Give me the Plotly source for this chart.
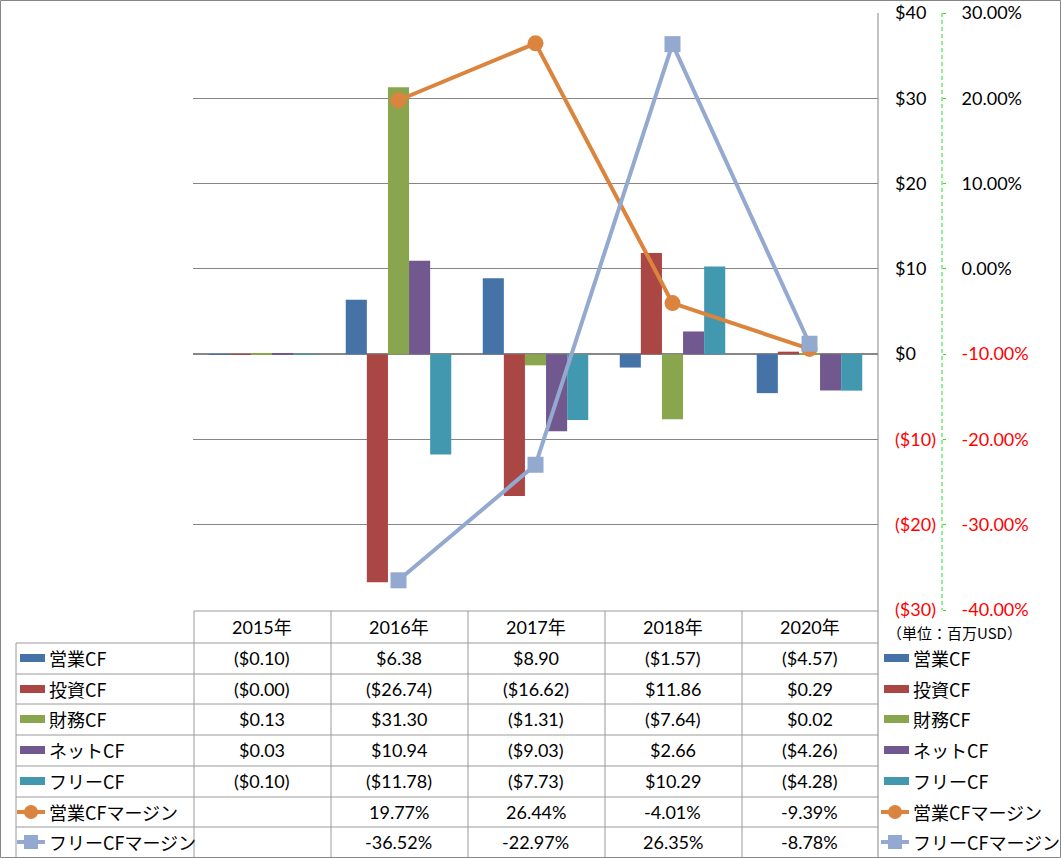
import plotly.graph_objects as go

years = ["2015年", "2016年", "2017年", "2018年", "2020年"]

bar_names = ["営業CF", "投資CF", "財務CF", "ネットCF", "フリーCF"]
op_cf = [-0.10, 6.38, 8.90, -1.57, -4.57]
inv_cf = [-0.001, -26.74, -16.62, 11.86, 0.29]
fin_cf = [0.13, 31.30, -1.31, -7.64, 0.02]
net_cf = [0.03, 10.94, -9.03, 2.66, -4.26]
free_cf = [-0.10, -11.78, -7.73, 10.29, -4.28]
bar_values = [op_cf, inv_cf, fin_cf, net_cf, free_cf]
bar_colors = ["#4572A7", "#AA4643", "#89A54E", "#71588F", "#4198AF"]

line_names = ["営業CFマージン", "フリーCFマージン"]
op_margin = [None, 19.77, 26.44, -4.01, -9.39]
free_margin = [None, -36.52, -22.97, 26.35, -8.78]
line_values = [op_margin, free_margin]
line_colors = ["#DB843D", "#93A9CF"]
line_symbols = ["circle", "square"]

usd_ticks = [-30, -20, -10, 0, 10, 20, 30, 40]
pct_ticks = [-40, -30, -20, -10, 0, 10, 20, 30]
unit_note = "（単位：百万USD）"

W, H = 1061, 858
def X(p):
    return p / W
def Y(p):
    return 1 - p / H

FONT = "Lato, 'Noto Sans CJK JP', sans-serif"
JFONT = "'Noto Sans CJK JP', sans-serif"
GRID = "#868686"
TBL = "#9a9a9a"

def usd(v):
    if v < 0:
        return "(${:.2f})".format(-v)
    return "${:.2f}".format(v)

def usd_tick(v):
    if v < 0:
        return "<span style='color:red'>(${})</span>".format(-v)
    return "${}".format(v)

def pct_tick(v):
    s = "{:.2f}%".format(v)
    if v < 0:
        return "<span style='color:red'>" + s + "</span>"
    return s

fig = go.Figure()
for name, vals, col in zip(bar_names, bar_values, bar_colors):
    fig.add_trace(go.Bar(x=years, y=vals, name=name, marker_color=col,
                         marker_line_width=0, yaxis="y"))
for name, vals, col, sym in zip(line_names, line_values, line_colors, line_symbols):
    fig.add_trace(go.Scatter(x=years, y=vals, name=name, mode="lines+markers",
                             line=dict(color=col, width=4),
                             marker=dict(symbol=sym, size=16, color=col),
                             yaxis="y2"))

shapes = []
annots = []

def hline(y, x0, x1, color=TBL, w=1):
    shapes.append(dict(type="line", xref="paper", yref="paper", x0=X(x0), x1=X(x1),
                       y0=Y(y), y1=Y(y), line=dict(color=color, width=w)))

def vline(x, y0, y1, color=TBL, w=1, dash="solid"):
    shapes.append(dict(type="line", xref="paper", yref="paper", x0=X(x), x1=X(x),
                       y0=Y(y0), y1=Y(y1), line=dict(color=color, width=w, dash=dash)))

# outer border
shapes.append(dict(type="rect", xref="paper", yref="paper", x0=X(0.5), x1=X(1060.5),
                   y0=Y(857.5), y1=Y(0.5), line=dict(color=GRID, width=1)))

# table grid
row_lines = [643, 674, 704, 735, 766, 797, 827]
hline(611, 194, 878)
for y in row_lines:
    hline(y, 16, 878)
vline(16, 643, 857)
for x in [194, 331, 468, 605, 742]:
    vline(x, 611, 857)
vline(878, 13, 857, color=GRID)
# secondary axis dashed line
vline(942, 13, 610, color="#22e022", dash="4px,3px")

row_centers = [658, 689, 719, 750, 781, 812, 842]
for yr in years:
    annots.append(dict(x=yr, xref="x", y=Y(627), yref="paper", yanchor="middle", text=yr,
                       showarrow=False, font=dict(size=18, family=FONT, color="#000")))

all_names = bar_names + line_names
for r, name in enumerate(all_names):
    yc = row_centers[r]
    if r < 5:
        vals = bar_values[r]
        cells = [usd(v) for v in vals]
        col = bar_colors[r]
        for x0 in (20, 884):
            shapes.append(dict(type="rect", xref="paper", yref="paper", x0=X(x0), x1=X(x0 + 25),
                               y0=Y(yc + 4), y1=Y(yc - 4), fillcolor=col, line_width=0))
    else:
        vals = line_values[r - 5]
        cells = ["" if v is None else "{:.2f}%".format(v) for v in vals]
        col = line_colors[r - 5]
        for x0 in (17, 881):
            shapes.append(dict(type="line", xref="paper", yref="paper", x0=X(x0), x1=X(x0 + 28),
                               y0=Y(yc), y1=Y(yc), line=dict(color=col, width=4)))
            cx = x0 + 14
            shapes.append(dict(type="circle" if r == 5 else "rect", xref="paper", yref="paper",
                               x0=X(cx - 7), x1=X(cx + 7), y0=Y(yc + 7), y1=Y(yc - 7),
                               fillcolor=col, line_width=0))
    for lx in (47, 911):
        annots.append(dict(x=X(lx), xref="paper", y=Y(yc), yref="paper", yanchor="middle",
                           text=name, showarrow=False, xanchor="left",
                           font=dict(size=18, family=JFONT, color="#000")))
    for yr, txt in zip(years, cells):
        annots.append(dict(x=yr, xref="x", y=Y(yc), yref="paper", yanchor="middle", text=txt,
                           showarrow=False, font=dict(size=18, family=FONT, color="#000")))

annots.append(dict(x=X(885), xref="paper", y=Y(632), yref="paper", yanchor="middle",
                   text=unit_note, showarrow=False, xanchor="left",
                   font=dict(size=15, family=JFONT, color="#000")))

fig.update_layout(
    width=W, height=H, autosize=False,
    margin=dict(l=0, r=0, t=0, b=0, pad=0),
    paper_bgcolor="white", plot_bgcolor="white",
    showlegend=False,
    barmode="group", bargap=0.23, bargroupgap=0,
    font=dict(family=FONT, size=18, color="#000"),
    xaxis=dict(domain=[X(193), X(878)], range=[-0.5, 4.5], showticklabels=False,
               showgrid=False, zeroline=False, showline=False, ticks="", automargin=False),
    yaxis=dict(domain=[Y(610), Y(13)], range=[-30, 40], side="right",
               tickvals=usd_ticks, ticktext=[usd_tick(v) for v in usd_ticks],
               showgrid=True, gridcolor=GRID, gridwidth=1,
               zeroline=True, zerolinecolor=GRID, zerolinewidth=2,
               showline=False, ticks="", ticklabelstandoff=16, automargin=False,
               tickfont=dict(size=18, family=FONT)),
    yaxis2=dict(overlaying="y", anchor="free", position=X(942), side="right",
                range=[-40, 30], tickvals=pct_ticks, ticktext=[pct_tick(v) for v in pct_ticks],
                showgrid=False, zeroline=False, showline=False, automargin=False,
                ticks="outside", ticklen=3, tickcolor="#22e022", ticklabelstandoff=12,
                tickfont=dict(size=18, family=FONT)),
    shapes=shapes,
    annotations=annots,
)

fig.write_html(
    "out.html",
    config={"displayModeBar": False},
    post_script=(
        "document.body.style.margin='0';document.body.style.padding='0';"
        "var d=document.getElementById('{plot_id}');"
        "d.style.position='absolute';d.style.top='0px';d.style.left='0px';"
    ),
)
